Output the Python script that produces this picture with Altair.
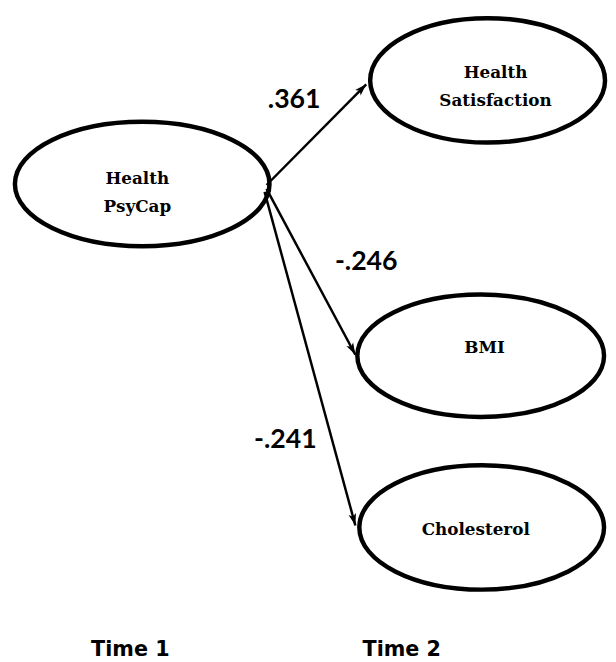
import math
import altair as alt
import pandas as pd

# ---- diagram content -------------------------------------------------------
node_names = ["Health\nPsyCap", "Health\nSatisfaction", "BMI", "Cholesterol"]
node_x = [144, 494, 487, 488]
node_y = [182, 77, 356, 530]
node_rx = [129, 119, 125, 124]
node_ry = [63, 63, 62, 63]
label_x = [139, 502, 491, 482]
label_y = [177, 70, 348, 533]

path_from_x = [270, 270, 268]
path_from_y = [183, 187, 190]
path_to_x = [371, 360, 360]
path_to_y = [81, 355, 528]
path_coef = [".361", "-.246", "-.241"]
coef_x = [298, 371, 289]
coef_y = [97, 261, 441]

time_labels = ["Time 1", "Time 2"]
time_x = [132, 407]
time_y = [660, 660]

# ---- tables -----------------------------------------------------------------
def ellipse_path(k):
    c = 0.5523
    return (f"M -1 0 C -1 {-c*k} {-c} {-k} 0 {-k} "
            f"C {c} {-k} 1 {-c*k} 1 0 "
            f"C 1 {c*k} {c} {k} 0 {k} "
            f"C {-c} {k} -1 {c*k} -1 0 Z")

nodes = pd.DataFrame({
    "name": node_names, "x": node_x, "y": node_y,
    "shape": [ellipse_path(ry / rx) for rx, ry in zip(node_rx, node_ry)],
    "size": [(2 * rx) ** 2 for rx in node_rx],
    "lx": label_x, "ly": label_y,
})

paths = pd.DataFrame({
    "x": path_from_x, "y": path_from_y, "x2": path_to_x, "y2": path_to_y,
    "coef": path_coef, "cx": coef_x, "cy": coef_y,
})
paths["angle"] = [
    math.degrees(math.atan2(x2 - x1, -(y2 - y1))) % 360
    for x1, y1, x2, y2 in zip(path_from_x, path_from_y, path_to_x, path_to_y)
]

times = pd.DataFrame({"t": time_labels, "x": time_x, "y": time_y})

# ---- scales (pixel-like coordinates) ---------------------------------------
W, H = 608, 654
xs = alt.Scale(domain=[8, 8 + W], nice=False, zero=False)
ys = alt.Scale(domain=[8, 8 + H], nice=False, zero=False, reverse=True)

def X(f):
    return alt.X(f, type="quantitative", scale=xs, axis=None)

def Y(f):
    return alt.Y(f, type="quantitative", scale=ys, axis=None)

ellipses = alt.Chart(nodes).mark_point(
    filled=False, stroke="black", strokeWidth=4.5, opacity=1
).encode(
    x=X("x"), y=Y("y"),
    shape=alt.Shape("shape:N", scale=None, legend=None),
    size=alt.Size("size:Q", scale=None, legend=None),
)

node_text = alt.Chart(nodes).mark_text(
    font="DejaVu Serif", fontWeight="bold", fontSize=17, lineBreak="\n",
    lineHeight=28, color="black", align="center", baseline="middle"
).encode(x=X("lx"), y=Y("ly"), text="name:N")

lines = alt.Chart(paths).mark_rule(color="black", strokeWidth=2.5).encode(
    x=X("x"), y=Y("y"), x2="x2:Q", y2="y2:Q"
)

heads = alt.Chart(paths).mark_point(
    shape="M 0 0 L 0.55 1.7 L 0 1.3 L -0.55 1.7 Z",
    filled=True, color="black", opacity=1, size=200
).encode(x=X("x2"), y=Y("y2"), angle=alt.Angle("angle:Q", scale=None))

coefs = alt.Chart(paths).mark_text(
    font="Lato", fontWeight="bold", fontSize=27, color="black",
    align="center", baseline="middle"
).encode(x=X("cx"), y=Y("cy"), text="coef:N")

time_text = alt.Chart(times).mark_text(
    font="DejaVu Sans", fontWeight="bold", fontSize=21, color="black",
    align="center", baseline="alphabetic"
).encode(x=X("x"), y=Y("y"), text="t:N")

chart = alt.layer(lines, heads, ellipses, node_text, coefs, time_text).properties(
    width=W, height=H, padding=0,
    autosize=alt.AutoSizeParams(type="none"),
).configure_view(stroke=None)

chart.save("out.html", embed_options={"renderer": "svg", "actions": False})
